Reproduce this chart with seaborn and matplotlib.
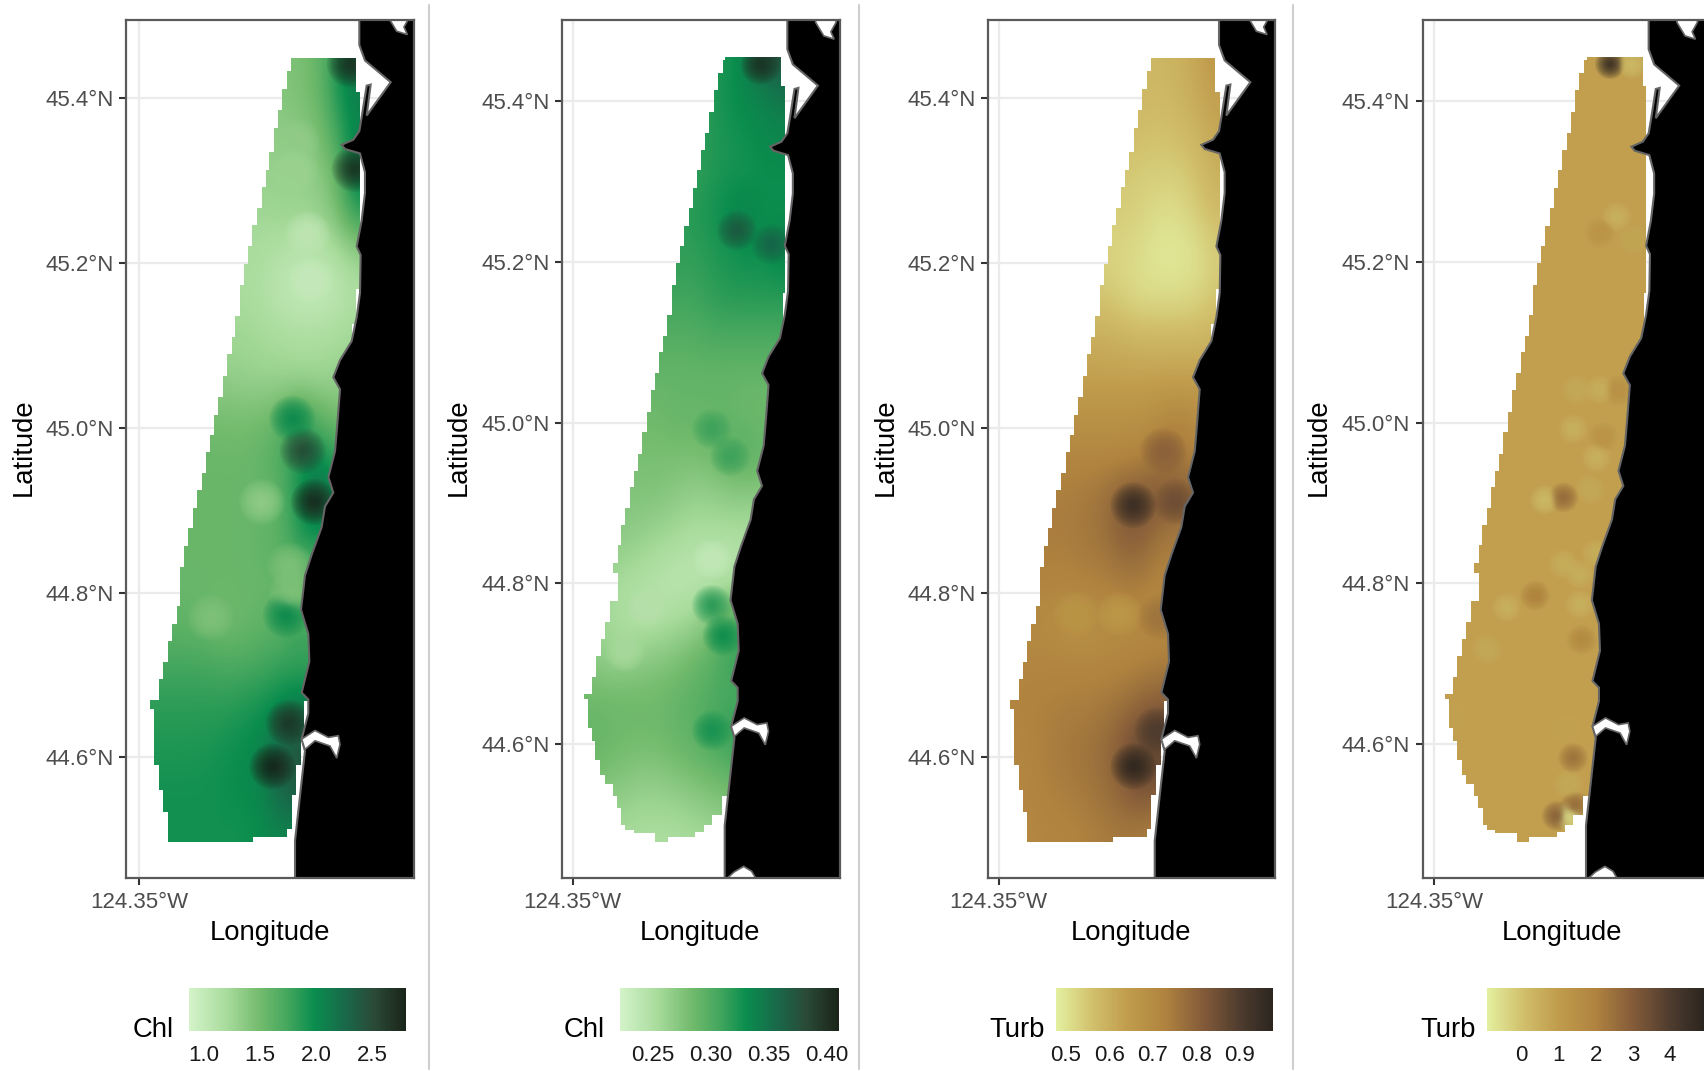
import numpy as np
import matplotlib
matplotlib.use("Agg")
import matplotlib.pyplot as plt
from matplotlib.colors import LinearSegmentedColormap, Normalize
from matplotlib.cm import ScalarMappable
from matplotlib.lines import Line2D
from matplotlib.patches import Polygon
import seaborn as sns

# ---------- values ----------
LON_CENTERS = [-124.329, -124.297, -124.266, -124.234, -124.202, -124.171,
               -124.139, -124.107, -124.076, -124.044, -124.012, -123.981]
LAT_CENTERS = [45.46, 45.41, 45.36, 45.31, 45.26, 45.21, 45.16, 45.11, 45.06, 45.01, 44.96,
               44.91, 44.86, 44.81, 44.76, 44.71, 44.66, 44.61, 44.56, 44.51, 44.46]

chl_a = [
 [1.4,1.4,1.4,1.4,1.4,1.4,1.4,1.45,1.45,1.55,1.85,2.25],
 [1.4,1.4,1.4,1.4,1.4,1.4,1.4,1.4,1.45,1.55,1.9,2.1],
 [1.35,1.35,1.35,1.35,1.35,1.35,1.35,1.35,1.4,1.45,1.75,2.05],
 [1.3,1.3,1.3,1.3,1.3,1.3,1.3,1.3,1.3,1.35,1.55,2.1],
 [1.25,1.25,1.25,1.25,1.25,1.25,1.25,1.28,1.28,1.3,1.45,1.85],
 [1.2,1.2,1.2,1.2,1.2,1.2,1.18,1.12,1.08,1.08,1.15,1.3],
 [1.2,1.2,1.2,1.2,1.2,1.2,1.15,1.05,1.0,1.0,1.05,1.15],
 [1.25,1.25,1.25,1.25,1.25,1.25,1.22,1.2,1.18,1.18,1.2,1.25],
 [1.35,1.35,1.35,1.35,1.33,1.3,1.28,1.27,1.25,1.25,1.3,1.3],
 [1.5,1.5,1.5,1.5,1.48,1.48,1.5,1.6,1.85,1.65,1.5,1.5],
 [1.55,1.55,1.55,1.55,1.55,1.55,1.6,1.7,1.9,2.05,1.85,1.7],
 [1.55,1.55,1.55,1.55,1.55,1.55,1.55,1.6,1.95,2.3,2.1,2.0],
 [1.55,1.55,1.55,1.55,1.55,1.55,1.6,1.65,1.85,1.9,1.8,1.8],
 [1.55,1.55,1.55,1.55,1.55,1.55,1.55,1.55,1.5,1.5,1.5,1.5],
 [1.6,1.6,1.6,1.55,1.5,1.55,1.6,1.65,1.8,1.7,1.7,1.7],
 [1.75,1.75,1.75,1.75,1.72,1.72,1.75,1.8,1.8,1.8,1.8,1.8],
 [1.85,1.85,1.85,1.85,1.85,1.9,1.95,2.05,2.15,2.1,2.1,2.1],
 [1.9,1.9,1.9,1.92,1.95,2.0,2.05,2.3,2.45,2.4,2.4,2.4],
 [1.95,1.95,1.95,1.95,1.98,2.0,2.05,2.3,2.4,2.3,2.3,2.3],
 [1.95,1.95,1.95,1.95,1.95,1.95,2.0,2.05,2.05,2.0,2.0,2.0],
 [1.95,1.95,1.95,1.95,1.95,1.95,2.0,2.05,2.05,2.0,2.0,2.0],
]
chl_b = [
 [.31,.31,.31,.31,.31,.31,.31,.32,.325,.34,.37,.38],
 [.31,.31,.31,.31,.31,.31,.315,.32,.33,.335,.34,.35],
 [.31,.31,.31,.31,.31,.31,.315,.32,.325,.33,.335,.335],
 [.31,.31,.31,.31,.31,.31,.315,.32,.325,.325,.33,.33],
 [.315,.315,.315,.315,.315,.315,.32,.325,.335,.34,.33,.33],
 [.315,.315,.315,.315,.315,.315,.315,.32,.325,.33,.33,.34],
 [.31,.31,.31,.31,.31,.31,.31,.315,.32,.32,.32,.32],
 [.30,.30,.30,.30,.30,.30,.30,.305,.305,.305,.305,.305],
 [.29,.29,.29,.29,.29,.29,.29,.29,.29,.29,.29,.29],
 [.285,.285,.285,.285,.285,.29,.29,.29,.29,.285,.285,.285],
 [.28,.28,.28,.28,.28,.28,.28,.285,.295,.30,.29,.29],
 [.275,.275,.275,.275,.275,.27,.265,.265,.27,.27,.27,.27],
 [.27,.27,.27,.265,.26,.255,.25,.25,.25,.25,.25,.25],
 [.265,.26,.255,.25,.245,.24,.24,.24,.235,.25,.26,.26],
 [.26,.255,.25,.245,.245,.25,.255,.27,.30,.30,.29,.29],
 [.27,.265,.26,.265,.27,.275,.285,.295,.31,.315,.30,.30],
 [.285,.285,.285,.285,.285,.29,.295,.30,.305,.30,.30,.30],
 [.29,.29,.285,.285,.285,.29,.295,.305,.315,.32,.31,.31],
 [.28,.28,.275,.27,.27,.275,.28,.285,.29,.30,.30,.30],
 [.26,.26,.26,.255,.255,.255,.26,.265,.27,.27,.27,.27],
 [.25,.25,.25,.25,.25,.25,.25,.25,.25,.25,.26,.26],
]
turb_a = [
 [.58,.58,.58,.58,.58,.58,.58,.58,.58,.59,.62,.66],
 [.58,.58,.58,.58,.58,.58,.58,.58,.58,.59,.61,.64],
 [.57,.57,.57,.57,.57,.57,.57,.57,.56,.57,.59,.62],
 [.55,.55,.55,.55,.55,.55,.55,.54,.54,.54,.56,.60],
 [.54,.54,.54,.54,.54,.54,.54,.53,.51,.51,.54,.57],
 [.53,.53,.53,.53,.53,.53,.52,.51,.49,.49,.50,.54],
 [.55,.55,.55,.55,.55,.55,.53,.51,.51,.51,.52,.55],
 [.60,.60,.60,.60,.60,.60,.59,.58,.58,.58,.58,.59],
 [.63,.63,.63,.63,.63,.63,.63,.63,.63,.63,.63,.63],
 [.68,.68,.68,.68,.68,.68,.68,.68,.70,.72,.70,.70],
 [.72,.72,.72,.72,.72,.72,.72,.73,.76,.78,.72,.72],
 [.74,.74,.74,.74,.75,.77,.82,.84,.82,.80,.80,.80],
 [.74,.74,.74,.74,.75,.76,.80,.80,.75,.74,.72,.72],
 [.72,.72,.72,.72,.73,.73,.74,.74,.72,.72,.70,.70],
 [.70,.70,.70,.68,.67,.69,.70,.70,.70,.72,.72,.72],
 [.72,.72,.72,.72,.72,.72,.72,.73,.74,.74,.74,.74],
 [.72,.73,.73,.74,.74,.75,.77,.80,.82,.82,.80,.80],
 [.71,.72,.74,.75,.76,.78,.82,.88,.89,.88,.85,.85],
 [.71,.72,.73,.74,.75,.77,.80,.84,.82,.78,.75,.75],
 [.70,.71,.72,.72,.73,.74,.75,.74,.73,.72,.72,.72],
 [.70,.71,.72,.72,.73,.74,.75,.74,.73,.72,.72,.72],
]
turb_b_background = 0.9

spot_lon_chl_a = [-124.087,-124.069,-124.050,-124.139,-124.098,-124.227,-124.093,-124.121,-124.061,-124.055,-123.988,-123.980,-124.080,-124.082,-124.091,-124.088]
spot_lat_chl_a = [45.011,44.972,44.910,44.910,44.773,44.770,44.642,44.589,45.235,45.179,45.441,45.314,45.347,45.312,44.833,44.800]
spot_val_chl_a = [2.0,2.5,2.75,1.3,2.0,1.4,2.65,2.8,1.0,0.95,2.7,2.7,1.3,1.25,1.4,1.4]

spot_lon_chl_b = [-124.061,-124.000,-124.019,-124.105,-124.073,-124.105,-124.086,-124.105,-124.258,-124.105,-124.220]
spot_lat_chl_b = [45.239,45.222,45.445,44.992,44.958,44.773,44.735,44.617,44.715,44.830,44.769]
spot_val_chl_b = [.37,.36,.40,.31,.31,.32,.33,.325,.25,.23,.24]

spot_lon_turb_a = [-124.119,-124.046,-124.068,-124.078,-124.119,-124.218,-124.143,-124.072]
spot_lat_turb_a = [44.906,44.910,44.972,44.633,44.589,44.774,44.774,44.770]
spot_val_turb_a = [.95,.85,.80,.90,.97,.65,.64,.76]

spot_lon_turb_b = [-124.040,-124.002,-124.028,-124.058,-123.999,-124.099,-124.058,-124.026,-124.105,-124.052,-124.064,-124.075,-124.155,-124.122,
                   -124.122,-124.093,-124.064,-124.172,-124.222,-124.093,-124.090,-124.257,-124.119,-124.105,-124.113,-124.134,-124.102,-124.112,-124.319]
spot_lat_turb_b = [45.446,45.446,45.256,45.236,45.228,45.041,45.041,45.040,44.992,44.982,44.956,44.917,44.904,44.907,
                   44.824,44.811,44.837,44.785,44.770,44.774,44.730,44.718,44.619,44.583,44.550,44.511,44.523,44.510,44.634]
spot_val_turb_b = [4.6,0.1,0.3,1.3,0.6,0.5,0.4,1.4,0.3,1.3,0.3,0.5,0.1,2.6,
                   0.4,0.4,0.4,2.0,0.3,0.3,1.7,0.5,0.7,2.4,0.5,2.9,2.6,-0.5,0.7]

# sampling footprints: staircase west / east edges (lat at top of each step, lon of the step)
west_lat_a = [45.4485,45.4322,45.4113,45.385,45.364,45.334,45.313,45.292,45.267,45.246,45.220,45.199,45.173,45.136,45.110,45.089,45.063,45.037,45.016,44.991,44.970,44.945,44.924,44.903,44.878,44.856,44.831,44.784,44.762,44.741,44.716,44.695,44.670,44.659,44.591,44.560,44.534]
west_lon_a = [-124.0893,-124.0956,-124.1041,-124.111,-124.1184,-124.1264,-124.1327,-124.1396,-124.1482,-124.1556,-124.1625,-124.1699,-124.1768,-124.1848,-124.191,-124.1985,-124.2053,-124.2139,-124.2214,-124.2282,-124.2351,-124.2425,-124.2511,-124.258,-124.2654,-124.2722,-124.2797,-124.2854,-124.294,-124.3008,-124.3083,-124.3151,-124.3311,-124.3237,-124.3151,-124.3083,-124.3008]
east_lat_a = [45.4485,45.4067,45.1677,45.126,45.085,44.668,44.624,44.591,44.554,44.513,44.503]
east_lon_a = [-123.9784,-123.9709,-123.9778,-123.9852,-124.0,-124.0670,-124.0721,-124.0807,-124.0881,-124.0956,-124.1539]
bottom_lat_a = 44.498

west_lat_b = [45.4548,45.4505,45.4347,45.4133,45.3863,45.3606,45.3392,45.3148,45.2921,45.2664,45.245,45.2193,45.1979,45.1713,45.1336,45.1079,45.0878,45.0617,45.0407,45.0137,44.988,44.9615,44.94,44.9195,44.8938,44.8722,44.8473,44.8258,44.8129,44.7785,44.7514,44.7312,44.7097,44.6839,44.6624,44.6568,44.6206,44.6043,44.5806,44.5622,44.5505,44.5355,44.5204,44.4989,44.4935,44.489]
west_lon_b = [-124.0812,-124.0859,-124.0941,-124.1012,-124.1094,-124.1164,-124.1241,-124.1311,-124.1381,-124.1458,-124.154,-124.161,-124.1687,-124.1751,-124.1833,-124.1904,-124.1974,-124.205,-124.2121,-124.2197,-124.2279,-124.235,-124.2426,-124.2496,-124.2573,-124.2649,-124.2708,-124.279,-124.2708,-124.2849,-124.2937,-124.3007,-124.3089,-124.316,-124.3306,-124.3236,-124.316,-124.3101,-124.3013,-124.2937,-124.2796,-124.272,-124.2643,-124.2573,-124.2426,-124.2045]
east_lat_b = [45.4548,45.4184,45.1615,45.085,44.6086,44.5677,44.5355,44.5118,44.4989,44.4903,44.4847]
east_lon_b = [-123.9826,-123.9768,-123.98,-124.0,-124.0636,-124.0724,-124.0871,-124.1047,-124.1194,-124.134,-124.1827]
bottom_lat_b = 44.4787

# coastline (west edge of land, north to south)
coast_lon = [-123.9721,-123.9721,-123.9624,-123.9183,-123.9595,-123.9526,-123.9595,-123.9681,-123.9721,-123.9824,-124.0024,-123.9967,-123.9709,-123.9624,-123.9624,-123.9681,-123.9766,-123.9698,-123.9709,-123.9766,-123.9852,-124.0052,-124.0167,-124.0052,-124.0098,-124.0138,-124.0252,-124.0167,-124.031,-124.0367,-124.0538,-124.0653,-124.0721,-124.0596,-124.0578,-124.071,-124.0596,-124.0596,-124.071,-124.0653,-124.0824,-124.0824,-124.0824,-123.7,-123.7]
coast_lat = [45.5186,45.4643,45.4455,45.4192,45.3787,45.4163,45.415,45.3766,45.3599,45.3494,45.3432,45.3382,45.3327,45.3098,45.2847,45.2513,45.2199,45.2095,45.1635,45.1343,45.105,45.0821,45.0612,45.0466,45.0048,44.9714,44.94,44.9212,44.9045,44.8794,44.846,44.8209,44.7791,44.7498,44.7164,44.6787,44.6703,44.6536,44.6222,44.6076,44.4989,44.4529,44.40,44.40,45.5186]
bay_river_lon = [-124.071,-124.0481,-124.0252,-124.0081,-124.0052,-124.0109,-124.0224,-124.0481,-124.0653]
bay_river_lat = [44.6222,44.6327,44.6243,44.6264,44.616,44.5992,44.6139,44.6202,44.6097]
bay_north_lon = [-123.9223,-123.908,-123.8897,-123.8955,-123.8863,-123.8863,-123.9223]
bay_north_lat = [45.4978,45.481,45.4769,45.4861,45.4978,45.52,45.52]
bay_south_lon = [-124.083,-124.066,-124.049,-124.035,-124.025]
bay_south_lat = [44.43,44.441,44.448,44.442,44.43]

lat_ticks = [45.4, 45.2, 45.0, 44.8, 44.6]
lat_labels = ["45.4°N", "45.2°N", "45.0°N", "44.8°N", "44.6°N"]
lon_tick = -124.35
lon_label = "124.35°W"

chl_colors = [(0,"#d4f3c9"),(.17,"#a9dc9d"),(.325,"#73bb6d"),(.45,"#45a75e"),(.577,"#0a8d4e"),(.72,"#19684a"),(.85,"#2a4a37"),(1,"#1a2419")]
turb_colors = [(0,"#e3f09f"),(.17,"#d1bf6b"),(.33,"#c09c4c"),(.5,"#b0833f"),(.68,"#825a39"),(.85,"#4d3b2e"),(1,"#2b251f")]

# ---------- theme ----------
sns.set_theme(style="white")
plt.rcParams["font.family"] = ["Liberation Sans", "DejaVu Sans"]

W, H = 1704, 1071
fig = plt.figure(figsize=(W/100, H/100), dpi=100, facecolor="white")
TOP, BOT = 19.5, 878
GREY = "#4d4d4d"
LSZ, TSZ = 19.8, 16


def axes_px(x0, x1, y0, y1):
    return fig.add_axes([x0/W, 1-y1/H, (x1-x0)/W, (y1-y0)/H])


def stair(wlat, wlon, elat, elon, bottom):
    wl = list(wlat)+[bottom]
    el = list(elat)+[bottom]
    pts = []
    for i, lo in enumerate(wlon):
        pts += [(lo, wl[i]), (lo, wl[i+1])]
    east = []
    for i, lo in enumerate(elon):
        east += [(lo, el[i]), (lo, el[i+1])]
    return pts+east[::-1]


cfgs = [
 dict(x=(126,414), tick=139, sx=583, ylat=(98,824.3), base=chl_a, slon=spot_lon_chl_a, slat=spot_lat_chl_a, sval=spot_val_chl_a,
      rng=(0.873,2.80), cols=chl_colors, foot="a", r=23, name="Chl", leg=(189,406.5), ct=[1.0,1.5,2.0,2.5], cl=["1.0","1.5","2.0","2.5"], tr=174, lat_x=24, lon_x=269.5),
 dict(x=(562,840), tick=572.7, sx=568, ylat=(101,804), base=chl_b, slon=spot_lon_chl_b, slat=spot_lat_chl_b, sval=spot_val_chl_b,
      rng=(0.221,0.411), cols=chl_colors, foot="b", r=20, name="Chl", leg=(619.5,839), ct=[.25,.30,.35,.40], cl=["0.25","0.30","0.35","0.40"], tr=605, lat_x=458.6, lon_x=700),
 dict(x=(988,1275), tick=998.7, sx=583, ylat=(98,824.3), base=turb_a, slon=spot_lon_turb_a, slat=spot_lat_turb_a, sval=spot_val_turb_a,
      rng=(0.4775,0.9775), cols=turb_colors, foot="a", r=23, name="Turb", leg=(1056,1273.5), ct=[.5,.6,.7,.8,.9], cl=["0.5","0.6","0.7","0.8","0.9"], tr=1045, lat_x=885.7, lon_x=1131),
 dict(x=(1422.5,1706), tick=1434, sx=568, ylat=(101,804), base=None, slon=spot_lon_turb_b, slat=spot_lat_turb_b, sval=spot_val_turb_b,
      rng=(-0.93,4.91), cols=turb_colors, foot="b", r=15, name="Turb", leg=(1486.5,1704), ct=[0,1,2,3,4], cl=["0","1","2","3","4"], tr=1476, lat_x=1319, lon_x=1561.6),
]

for c in cfgs:
    ax = axes_px(c["x"][0], c["x"][1], TOP, BOT)
    xlim = (lon_tick-(c["tick"]-c["x"][0])/c["sx"], lon_tick+(c["x"][1]-c["tick"])/c["sx"])
    y45, sy = c["ylat"]
    ylim = (45.4-(BOT-y45)/sy, 45.4+(y45-TOP)/sy)
    cmap = LinearSegmentedColormap.from_list(c["name"], c["cols"], N=512)
    norm = Normalize(*c["rng"])

    ax.set_axisbelow(True)
    ax.grid(True, color="#ebebeb", lw=1.6)

    if c["foot"] == "a":
        verts = stair(west_lat_a, west_lon_a, east_lat_a, east_lon_a, bottom_lat_a)
    else:
        verts = stair(west_lat_b, west_lon_b, east_lat_b, east_lon_b, bottom_lat_b)
    foot = Polygon(verts, closed=True, fc="none", ec="none", transform=ax.transData)
    ax.add_patch(foot)

    base = c["base"]
    if base is None:
        base = np.full((len(LAT_CENTERS), len(LON_CENTERS)), turb_b_background)
    hx = (LON_CENTERS[1]-LON_CENTERS[0])/2
    hy = (LAT_CENTERS[0]-LAT_CENTERS[1])/2
    im = ax.imshow(np.asarray(base, float), cmap=cmap, norm=norm, aspect="auto", origin="upper",
                   interpolation="bicubic", zorder=2,
                   extent=(LON_CENTERS[0]-hx, LON_CENTERS[-1]+hx, LAT_CENTERS[-1]-hy, LAT_CENTERS[0]+hy))
    im.set_clip_path(foot)

    # soft station spots: many stacked, very translucent discs
    for frac in [1.0, .92, .84, .77, .70, .63, .56, .50, .44, .38, .32, .27, .22, .17, .13]:
        d_pt = 2*c["r"]*frac*0.72
        sns.scatterplot(x=c["slon"], y=c["slat"], hue=c["sval"], hue_norm=c["rng"], palette=cmap,
                        s=d_pt**2, alpha=0.13, linewidth=0, legend=False, ax=ax, zorder=2.5)
        ax.collections[-1].set_clip_path(foot)

    land = Polygon(np.column_stack([coast_lon, coast_lat]), closed=True, fc="black", ec="#666666", lw=1.5, zorder=3)
    ax.add_patch(land)
    for lo, la in [(bay_river_lon, bay_river_lat), (bay_north_lon, bay_north_lat), (bay_south_lon, bay_south_lat)]:
        ax.add_patch(Polygon(np.column_stack([lo, la]), closed=True, fc="white", ec="#666666", lw=1.2, zorder=3.2))

    ax.set_xlim(*xlim)
    ax.set_ylim(*ylim)
    ax.set_xticks([lon_tick], [lon_label])
    ax.set_yticks(lat_ticks, lat_labels)
    ax.tick_params(axis="x", length=5, width=1.5, color="#333333", labelcolor=GREY, labelsize=TSZ, pad=5, bottom=True)
    ax.tick_params(axis="y", length=5, width=1.5, color="#333333", labelcolor=GREY, labelsize=TSZ, pad=4, left=True)
    for s in ax.spines.values():
        s.set_visible(True)
        s.set_color("#5a5a5a")
        s.set_linewidth(1.6)
        s.set_zorder(5)

    fig.text(c["lat_x"]/W, 1-447/H, "Latitude", rotation=90, ha="center", va="center", fontsize=LSZ, color="black")
    fig.text(c["lon_x"]/W, 1-933/H, "Longitude", ha="center", va="center", fontsize=LSZ, color="black")

    # legend
    cax = axes_px(c["leg"][0], c["leg"][1], 988, 1031)
    cb = fig.colorbar(ScalarMappable(norm=norm, cmap=cmap), cax=cax, orientation="horizontal", ticks=c["ct"])
    cb.ax.set_xticklabels(c["cl"])
    cb.outline.set_visible(False)
    cb.ax.tick_params(axis="x", direction="in", length=6.5, width=1.2, color="white", top=True, bottom=True,
                      labelsize=TSZ, labelcolor="#1a1a1a", pad=10)
    fig.text(c["tr"]/W, 1-1030/H, c["name"], ha="right", va="center", fontsize=LSZ, color="black")

for xs in [429, 859, 1293]:
    fig.add_artist(Line2D([xs/W, xs/W], [0.002, 0.995], color="#cfcfcf", lw=1.5))

fig.savefig("out.png", dpi=100, facecolor="white")
